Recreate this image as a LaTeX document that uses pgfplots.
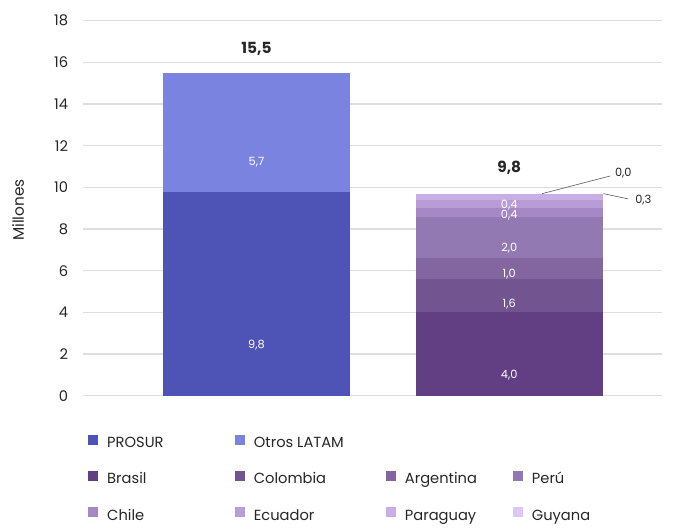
\documentclass[border=0pt]{standalone}
\usepackage{pgfplots}
\pgfplotsset{compat=1.18}
\usepackage{fontspec}
\setmainfont{Poppins}
\definecolor{cPROSUR}{HTML}{4E54B5}
\definecolor{cOtros}{HTML}{7B83E0}
\definecolor{cBrasil}{HTML}{623F83}
\definecolor{cColombia}{HTML}{725490}
\definecolor{cArgentina}{HTML}{83659F}
\definecolor{cPeru}{HTML}{9379B2}
\definecolor{cChile}{HTML}{A688C6}
\definecolor{cEcuador}{HTML}{B79CD6}
\definecolor{cParaguay}{HTML}{C9AEE6}
\definecolor{cGuyana}{HTML}{DCC8F3}
\newcommand{\LE}[2]{\makebox[#1][l]{\hspace{6.75pt}#2}}
\pgfplotsset{
  vlab/.style={nodes near coords, point meta=explicit symbolic,
    every node near coord/.append style={font=\fontsize{8.5}{10}\selectfont, text=white, anchor=center, yshift=#1}},
}
\begin{document}
\begin{tikzpicture}
\path[use as bounding box] (-62.25pt,-98.5pt) rectangle (442.5pt,296.8pt);
\begin{axis}[
  scale only axis, width=434pt, height=281.25pt,
  xmin=-0.686, xmax=1.603, ymin=0, ymax=18,
  ytick={0,2,...,18}, xtick=\empty,
  ybar stacked, bar width=140pt,
  ymajorgrids, grid style={draw=black!13, line width=1pt},
  axis line style={draw=none}, major tick length=0pt,
  tick label style={font=\fontsize{11}{13}\selectfont, text=black!85},
  yticklabel style={anchor=east, inner sep=0pt, xshift=-11pt},
  /pgf/number format/assume math mode=true,
  ylabel={Millones},
  ylabel style={at={(axis description cs:-0.112,0.495)}, anchor=center, font=\fontsize{11.5}{13}\selectfont, text=black!85},
  legend columns=4, legend cell align=left,
  legend style={at={(axis description cs:0.0086,-0.103)}, anchor=north west, draw=none, fill=none,
    inner sep=0pt, column sep=0pt, row sep=15.3pt,
    nodes={inner sep=0pt, text height=7.5pt, text depth=2.5pt},
    font=\fontsize{11}{13}\selectfont, text=black!85},
  legend image code/.code={\fill[#1] (0pt,-0.5pt) rectangle (7.5pt,7pt);},
]
\addplot[fill=cPROSUR, draw=none, vlab=-38.28pt] coordinates {(0,9.8) [9,8] (1,0) []};
\addlegendentry{\LE{102.5pt}{PROSUR}}
\addplot[fill=cOtros, draw=none, vlab=-22.27pt] coordinates {(0,5.7) [5,7] (1,0) []};
\addlegendentry{\LE{105.75pt}{Otros LATAM}}
\addplot[fill=none, draw=none, legend image code/.code={}] coordinates {(0,0) (1,0)};
\addlegendentry{}
\addplot[fill=none, draw=none, legend image code/.code={}] coordinates {(0,0) (1,0)};
\addlegendentry{}
\addplot[fill=cBrasil, draw=none, vlab=-15.63pt] coordinates {(0,0) [] (1,4.0) [4,0]};
\addlegendentry{\LE{102.5pt}{Brasil}}
\addplot[fill=cColombia, draw=none, vlab=-6.25pt] coordinates {(0,0) [] (1,1.6) [1,6]};
\addlegendentry{\LE{105.75pt}{Colombia}}
\addplot[fill=cArgentina, draw=none, vlab=-3.91pt] coordinates {(0,0) [] (1,1.0) [1,0]};
\addlegendentry{\LE{87.75pt}{Argentina}}
\addplot[fill=cPeru, draw=none, vlab=-7.81pt] coordinates {(0,0) [] (1,2.0) [2,0]};
\addlegendentry{\LE{50pt}{Perú}}
\addplot[fill=cChile, draw=none, vlab=-2.35pt] coordinates {(0,0) [] (1,0.4) [0,4]};
\addlegendentry{\LE{102.5pt}{Chile}}
\addplot[fill=cEcuador, draw=none, vlab=-0.8pt] coordinates {(0,0) [] (1,0.4) [0,4]};
\addlegendentry{\LE{105.75pt}{Ecuador}}
\addplot[fill=cParaguay, draw=none] coordinates {(0,0) (1,0.3)};
\addlegendentry{\LE{87.75pt}{Paraguay}}
\addplot[fill=cGuyana, draw=none] coordinates {(0,0) (1,0.0)};
\addlegendentry{\LE{50pt}{Guyana}}
\node[font=\fontsize{11.5}{13}\selectfont\bfseries, text=black!85] at (axis cs:0,16.65) {15,5};
\node[font=\fontsize{11.5}{13}\selectfont\bfseries, text=black!85] at (axis cs:1,10.95) {9,8};
\draw[black!60, line width=0.5pt] (axis cs:1.13,9.7) -- (axis cs:1.4,10.55);
\node[font=\fontsize{8.5}{10}\selectfont, text=black!85, anchor=west] at (axis cs:1.4,10.7) {0,0};
\draw[black!60, line width=0.5pt] (axis cs:1.372,9.7) -- (axis cs:1.47,9.45);
\node[font=\fontsize{8.5}{10}\selectfont, text=black!85, anchor=west] at (axis cs:1.48,9.4) {0,3};
\end{axis}
\end{tikzpicture}
\end{document}
